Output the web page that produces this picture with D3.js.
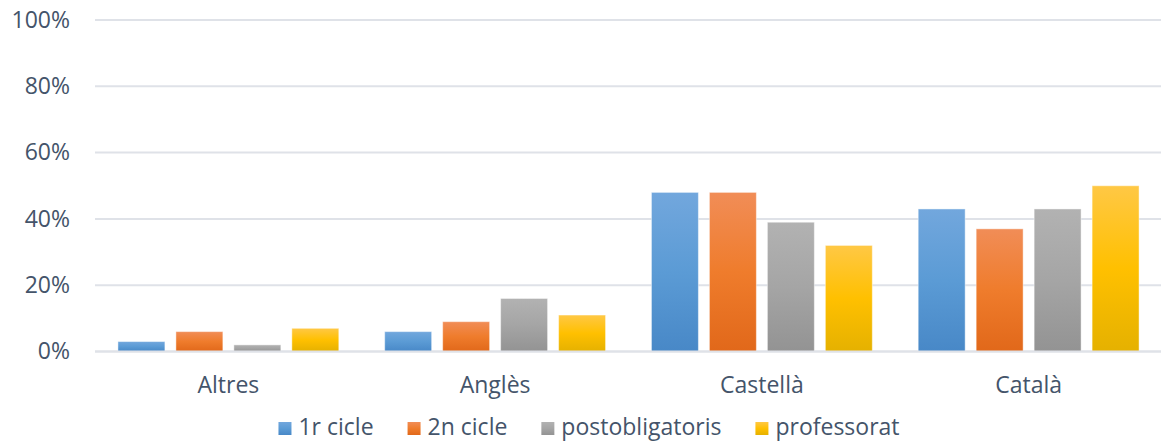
<!DOCTYPE html>
<html>
<head>
<meta charset="utf-8">
<script src="https://cdn.jsdelivr.net/npm/d3@7/dist/d3.min.js"></script>
<style>
  html, body { margin: 0; padding: 0; background: #fff; }
  svg { display: block; font-family: "Open Sans", sans-serif; }
</style>
</head>
<body>
<svg id="chart" width="1161" height="441"></svg>
<script>
// Llengua per categoria i grup
const categories = ["Altres", "Anglès", "Castellà", "Català"];
const seriesNames = ["1r cicle", "2n cicle", "postobligatoris", "professorat"];
const primerCicle = [3, 6, 48, 43];
const segonCicle = [6, 9, 48, 37];
const postobligatoris = [2, 16, 39, 43];
const professorat = [7, 11, 32, 50];
const yTicks = [0, 20, 40, 60, 80, 100];

const seriesValues = [primerCicle, segonCicle, postobligatoris, professorat];

// Gradient stops per series: top, middle, bottom
const palette = [
  ["#72a7dd", "#5b9bd5", "#4888c7"],
  ["#f18d57", "#ef7c2c", "#e1681a"],
  ["#b2b2b2", "#a5a5a5", "#939393"],
  ["#ffc845", "#ffc000", "#e5b100"]
];

const svg = d3.select("#chart");
const margin = { left: 95, right: 0, top: 20, bottom: 90 };
const width = 1161, height = 441;
const plotRight = 1162;
const y0 = 351.5;

const defs = svg.append("defs");
palette.forEach((c, i) => {
  const g = defs.append("linearGradient")
    .attr("id", "grad" + i)
    .attr("x1", 0).attr("y1", 0).attr("x2", 0).attr("y2", 1);
  g.append("stop").attr("offset", "0%").attr("stop-color", c[0]);
  g.append("stop").attr("offset", "50%").attr("stop-color", c[1]);
  g.append("stop").attr("offset", "100%").attr("stop-color", c[2]);
});

const x0 = d3.scaleBand()
  .domain(categories)
  .range([margin.left, plotRight])
  .paddingInner(0.172)
  .paddingOuter(0.086);

const x1 = d3.scaleBand()
  .domain(d3.range(seriesNames.length))
  .range([0, x0.bandwidth()])
  .paddingInner(0.19)
  .paddingOuter(0);

const y = d3.scaleLinear().domain([0, 100]).range([y0, 20]);

const textColor = "#44546a";
const gridColor = "#dfe2e8";

// Gridlines
svg.append("g")
  .selectAll("line")
  .data(yTicks)
  .join("line")
  .attr("x1", margin.left)
  .attr("x2", plotRight)
  .attr("y1", d => y(d))
  .attr("y2", d => y(d))
  .attr("stroke", gridColor)
  .attr("stroke-width", 2);

// Y axis labels
const yAxis = d3.axisLeft(y)
  .tickValues(yTicks)
  .tickFormat(d => d + "%")
  .tickSize(0)
  .tickPadding(0);

const yg = svg.append("g")
  .attr("transform", `translate(70,0)`)
  .call(yAxis);
yg.select(".domain").remove();
yg.selectAll("text")
  .attr("fill", textColor)
  .attr("font-size", "23px")
  .attr("font-family", "Open Sans, sans-serif");

// Bars
const groups = svg.append("g")
  .selectAll("g")
  .data(categories)
  .join("g")
  .attr("transform", d => `translate(${x0(d)},0)`);

groups.selectAll("rect")
  .data((d, ci) => seriesValues.map((vals, si) => ({ si, v: vals[ci] })))
  .join("rect")
  .attr("x", d => x1(d.si))
  .attr("width", x1.bandwidth())
  .attr("y", d => y(d.v))
  .attr("height", d => y0 - y(d.v))
  .attr("fill", d => `url(#grad${d.si})`)
  .attr("stroke", "#ffffff")
  .attr("stroke-opacity", 0.45)
  .attr("stroke-width", 1);

// Baseline
svg.append("line")
  .attr("x1", margin.left)
  .attr("x2", plotRight)
  .attr("y1", y0)
  .attr("y2", y0)
  .attr("stroke", gridColor)
  .attr("stroke-width", 2);

// Category labels
const xAxis = d3.axisBottom(x0).tickSize(0).tickPadding(0);
const xg = svg.append("g")
  .attr("transform", `translate(0,${y0})`)
  .call(xAxis);
xg.select(".domain").remove();
xg.selectAll("text")
  .attr("fill", textColor)
  .attr("font-size", "23px")
  .attr("font-family", "Open Sans, sans-serif")
  .attr("dy", null)
  .attr("y", 41);

// Legend
const legend = svg.append("g");
const items = legend.selectAll("g")
  .data(seriesNames)
  .join("g");
items.append("rect")
  .attr("width", 13)
  .attr("height", 13)
  .attr("y", -13)
  .attr("fill", (d, i) => `url(#grad${i})`);
items.append("text")
  .attr("x", 20)
  .attr("y", 0)
  .attr("fill", textColor)
  .attr("font-size", "23px")
  .attr("font-family", "Open Sans, sans-serif")
  .text(d => d);

let cursor = 0;
const spacing = 34;
items.each(function () {
  const g = d3.select(this);
  g.attr("transform", `translate(${cursor},0)`);
  const w = g.select("text").node().getComputedTextLength();
  cursor += 20 + w + spacing;
});
const totalW = cursor - spacing;
legend.attr("transform", `translate(${589 - totalW / 2},435)`);
</script>
</body>
</html>
